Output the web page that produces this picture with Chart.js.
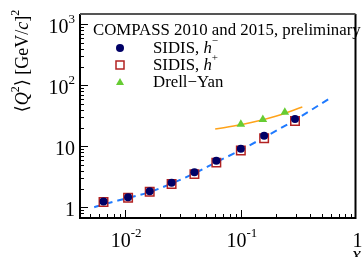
<!DOCTYPE html>
<html><head><meta charset="utf-8">
<script src="https://cdn.jsdelivr.net/npm/chart.js@4"></script>
<style>html,body{margin:0;padding:0;background:#fff;overflow:hidden}</style>
</head><body>
<canvas id="c" width="363" height="257" style="width:363px;height:257px"></canvas>
<script>
// ---- data ----
const xBins      = [0.0065, 0.0106, 0.0163, 0.0252, 0.0397, 0.0614, 0.1, 0.159, 0.294];
const q2HMinus   = [1.24, 1.46, 1.83, 2.53, 3.75, 5.8, 9.1, 14.9, 28];
const q2HPlus    = [1.22, 1.44, 1.80, 2.40, 3.50, 5.4, 8.5, 13.5, 26];
const dyX        = [0.1, 0.155, 0.24];
const dyQ2       = [23, 27.5, 36];
const sidisFitX  = [0.0054, 0.0065, 0.0106, 0.0163, 0.0252, 0.0397, 0.0614, 0.1, 0.159, 0.294, 0.57];
const sidisFitQ2 = [1.0, 1.12, 1.42, 1.78, 2.45, 3.6, 5.5, 8.7, 14.0, 27, 59];
const dyFitX     = [0.06, 0.1, 0.2, 0.34];
const dyFitQ2    = [19.2, 22.5, 31, 44];
const xMajorTicks = [0.01, 0.1, 1];
const xTickLabels = [['10','-2'], ['10','-1'], ['1','']];
const yMajorTicks = [1, 10, 100, 1000];
const yTickLabels = [['1',''], ['10',''], ['10','2'], ['10','3']];
const legendTitle = 'COMPASS 2010 and 2015, preliminary';

const pts = (xs, ys) => xs.map((x, i) => ({x: x, y: ys[i]}));
const SERIF = '"Liberation Serif", "DejaVu Serif", serif';

function drawRuns(ctx, segs, x, y, align, size) {
  const sup = Math.round(size * 0.65);
  const fontOf = s => (s.i ? 'italic ' : '') + (s.sup ? sup : size) + 'px ' + SERIF;
  let w = 0;
  segs.forEach(s => { ctx.font = fontOf(s); w += ctx.measureText(s.t).width; });
  let cx = align === 'right' ? x - w : align === 'center' ? x - w / 2 : x;
  ctx.textAlign = 'left';
  ctx.textBaseline = 'alphabetic';
  segs.forEach(s => {
    ctx.font = fontOf(s);
    ctx.fillText(s.t, cx, y - (s.sup ? size * 0.52 : 0));
    cx += ctx.measureText(s.t).width;
  });
  return w;
}

const decor = {
  id: 'decor',
  afterDraw(chart) {
    const ctx = chart.ctx, a = chart.chartArea;
    const xs = chart.scales.x, ys = chart.scales.y;
    ctx.save();
    // frame
    ctx.strokeStyle = '#000';
    ctx.lineWidth = 2;
    ctx.beginPath();
    ctx.moveTo(a.left, a.top); ctx.lineTo(a.left, a.bottom); ctx.lineTo(a.right, a.bottom); ctx.lineTo(a.right, a.top);
    ctx.stroke();
    ctx.strokeStyle = '#555';
    ctx.beginPath(); ctx.moveTo(a.left, a.top); ctx.lineTo(a.right, a.top); ctx.stroke();
    // ticks
    ctx.strokeStyle = '#000';
    ctx.lineWidth = 1;
    ctx.beginPath();
    for (let e = -3; e <= 0; e++) {
      for (let m = 1; m <= 9; m++) {
        const v = m * Math.pow(10, e);
        if (v < xs.min || v > xs.max * 1.0001) continue;
        const px = Math.round(xs.getPixelForValue(v)) + 0.5;
        const len = m === 1 ? 8 : 4;
        ctx.moveTo(px, a.bottom); ctx.lineTo(px, a.bottom - len);
      }
    }
    for (let e = -1; e <= 3; e++) {
      for (let m = 1; m <= 9; m++) {
        const v = m * Math.pow(10, e);
        if (v < ys.min || v > ys.max) continue;
        const py = Math.round(ys.getPixelForValue(v)) + 0.5;
        const len = m === 1 ? 8 : 4;
        ctx.moveTo(a.left, py); ctx.lineTo(a.left + len, py);
      }
    }
    ctx.stroke();
    // tick labels
    ctx.fillStyle = '#000';
    yMajorTicks.forEach((v, i) => {
      const py = ys.getPixelForValue(v);
      const segs = [{t: yTickLabels[i][0]}];
      if (yTickLabels[i][1]) segs.push({t: yTickLabels[i][1], sup: true});
      drawRuns(ctx, segs, a.left - 5, py + 9, 'right', 20);
    });
    xMajorTicks.forEach((v, i) => {
      const px = xs.getPixelForValue(v);
      const segs = [{t: xTickLabels[i][0]}];
      if (xTickLabels[i][1]) segs.push({t: xTickLabels[i][1], sup: true});
      drawRuns(ctx, segs, px + 1, 247, 'center', 20);
    });
    // axis titles
    drawRuns(ctx, [{t: 'x', i: true}], 352, 261, 'left', 20);
    ctx.save();
    ctx.translate(28, 61);
    ctx.rotate(-Math.PI / 2);
    drawRuns(ctx, [{t: '\u27E8'}, {t: 'Q', i: true}, {t: '2', sup: true}, {t: '\u27E9 [GeV/'}, {t: 'c', i: true}, {t: ']'}, {t: '2', sup: true}], 0, 0, 'center', 18);
    ctx.restore();
    // legend
    ctx.font = '16px ' + SERIF;
    const tw = ctx.measureText(legendTitle).width;
    const lsize = 16 * 268 / tw;
    drawRuns(ctx, [{t: legendTitle}], 93, 35, 'left', lsize);
    drawRuns(ctx, [{t: 'SIDIS, '}, {t: 'h', i: true}, {t: '\u2212', sup: true}], 153, 53, 'left', lsize);
    drawRuns(ctx, [{t: 'SIDIS, '}, {t: 'h', i: true}, {t: '+', sup: true}], 153, 70, 'left', lsize);
    drawRuns(ctx, [{t: 'Drell\u2212Yan'}], 153, 87, 'left', lsize);
    // legend markers
    ctx.fillStyle = '#000066';
    ctx.beginPath(); ctx.arc(120, 48, 4, 0, Math.PI * 2); ctx.fill();
    ctx.strokeStyle = '#b22222'; ctx.lineWidth = 1.5;
    ctx.strokeRect(116, 61, 8, 8);
    ctx.fillStyle = '#66cc33';
    ctx.beginPath(); ctx.moveTo(120, 78); ctx.lineTo(124, 85); ctx.lineTo(116, 85); ctx.closePath(); ctx.fill();
    ctx.restore();
  }
};

new Chart(document.getElementById('c'), {
  type: 'scatter',
  data: {
    datasets: [
      {label: 'SIDIS h-', data: pts(xBins, q2HMinus), order: 1, pointStyle: 'circle', pointRadius: 4,
       backgroundColor: '#000066', borderColor: '#000066', borderWidth: 0},
      {label: 'DY', data: pts(dyX, dyQ2), order: 2, pointStyle: 'triangle', pointRadius: 5,
       backgroundColor: '#66cc33', borderColor: '#66cc33', borderWidth: 0},
      {label: 'SIDIS h+', data: pts(xBins, q2HPlus), order: 3, pointStyle: 'rect', pointRadius: 6,
       backgroundColor: '#ffffff', borderColor: '#b22222', borderWidth: 1.5},
      {label: 'DY fit', data: pts(dyFitX, dyFitQ2), order: 4, showLine: true, pointRadius: 0,
       borderColor: '#ffa31a', borderWidth: 1.5, tension: 0.4, cubicInterpolationMode: 'monotone'},
      {label: 'SIDIS fit', data: pts(sidisFitX, sidisFitQ2), order: 5, showLine: true, pointRadius: 0,
       borderColor: '#1f7aff', borderWidth: 2, borderDash: [7, 5], cubicInterpolationMode: 'monotone'}
    ]
  },
  options: {
    responsive: false,
    animation: false,
    devicePixelRatio: 1,
    layout: {padding: {left: 80, top: 14, right: 2, bottom: 39}},
    plugins: {legend: {display: false}, tooltip: {enabled: false}},
    scales: {
      x: {type: 'logarithmic', min: 0.00407, max: 0.98, bounds: 'data', display: false},
      y: {type: 'logarithmic', min: 0.668, max: 1475, bounds: 'data', display: false}
    }
  },
  plugins: [decor]
});
</script>
</body></html>
